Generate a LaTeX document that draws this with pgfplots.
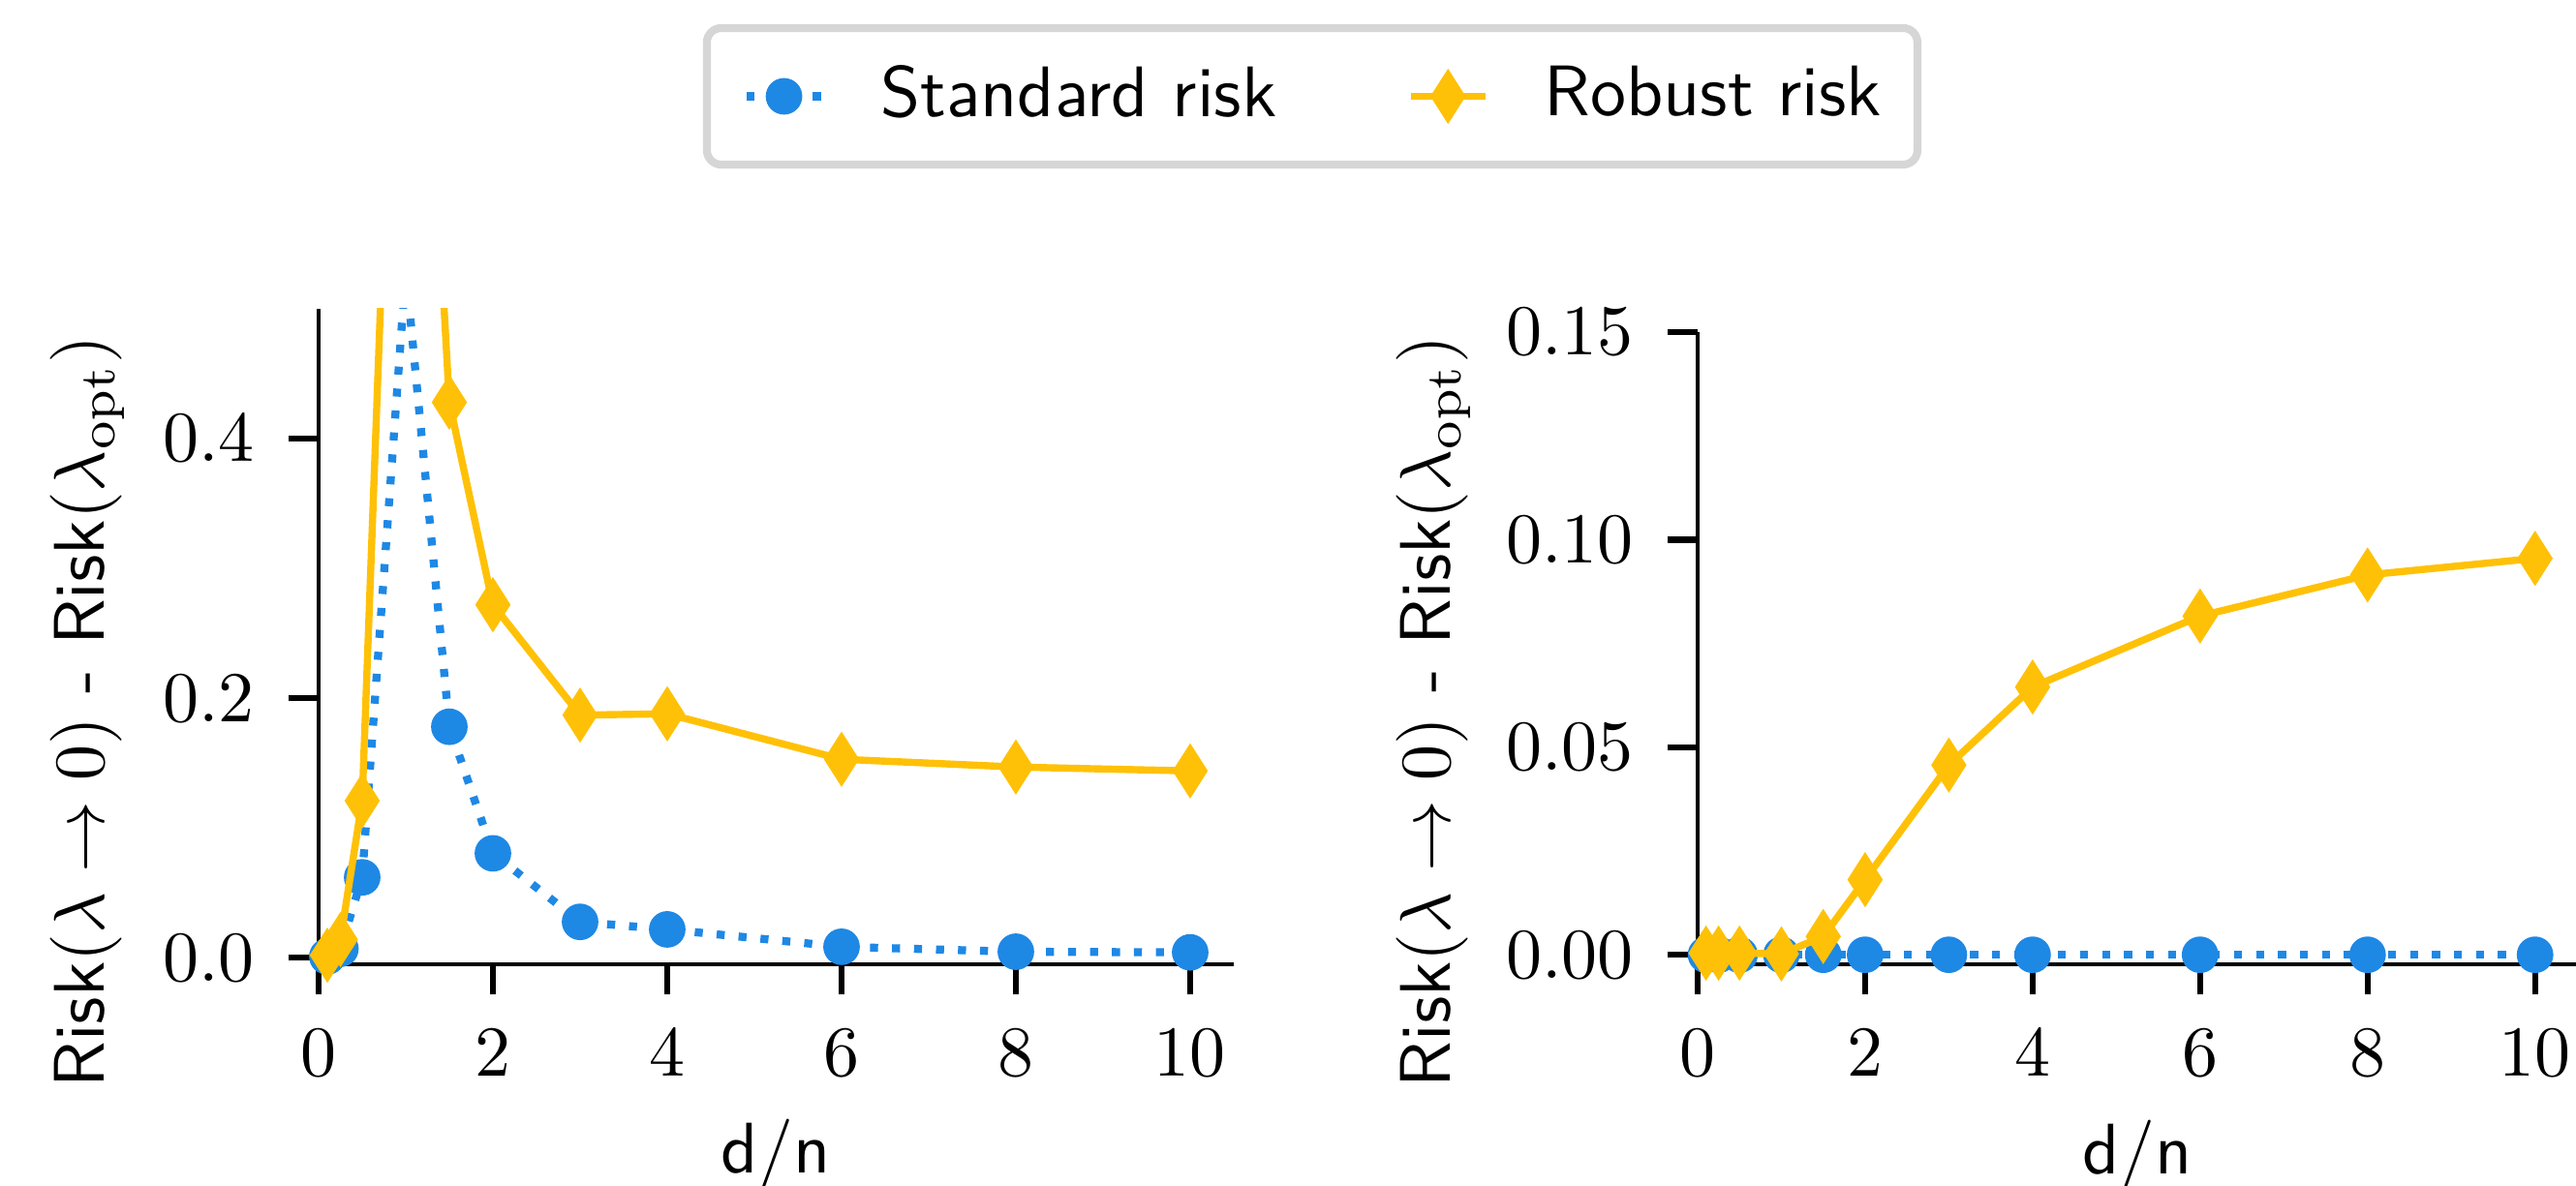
\documentclass[border=0pt]{standalone}
\usepackage{pgfplots}
\pgfplotsset{compat=1.18}
\definecolor{stdblue}{RGB}{30,136,229}
\definecolor{robyellow}{RGB}{255,193,7}
\definecolor{leggray}{RGB}{214,214,214}
\pgfplotstableread{
x y
0.1 0.001
0.25 0.007
0.5 0.062
1 0.53
1.5 0.178
2 0.0805
3 0.0277
4 0.0219
6 0.0085
8 0.0047
10 0.0042
}\stdleft
\pgfplotstableread{
x y
0.1 0.002
0.25 0.014
0.5 0.121
1 1.03
1.5 0.428
2 0.272
3 0.187
4 0.188
6 0.153
8 0.147
10 0.144
}\robleft
\pgfplotstableread{
x y
0.1 0.0
0.25 0.0
0.5 0.0
1 0.0
1.5 0.0
2 0.0
3 0.0
4 0.0
6 0.0
8 0.0
10 0.0
}\stdright
\pgfplotstableread{
x y
0.1 0.0004
0.25 0.0004
0.5 0.0004
1 0.0002
1.5 0.0044
2 0.0181
3 0.0457
4 0.0645
6 0.0816
8 0.0915
10 0.0955
}\robright
\begin{document}
\begin{tikzpicture}
\pgfplotsset{
  myaxis/.style={
    scale only axis,
    axis x line*=bottom, axis y line*=left,
    axis line style={line width=0.5pt, black},
    tick align=outside,
    major tick length=4.2pt,
    every tick/.style={line width=0.85pt, black},
    xtick={0,2,4,6,8,10},
    xmin=0, xmax=10.5,
    clip mode=individual,
    xlabel={\textsf{d/n}},
    ylabel={\textsf{Risk}$(\lambda \rightarrow 0)$\textsf{ - Risk}$(\lambda_{\mathrm{opt}})$},
    xticklabel style={yshift=-1.4pt},
    yticklabel style={xshift=-1.2pt},
    scaled y ticks=false,
  },
  stdplot/.style={stdblue, line width=1.12pt, dash pattern=on 1.12pt off 1.95pt, mark=*, mark size=2.3pt, mark options={solid, line width=0.5pt, fill=stdblue}},
  robplot/.style={robyellow, line width=1pt, mark=diamond*, mark size=3.4pt, mark options={solid, xscale=0.85, line width=0.5pt, fill=robyellow}},
}
\begin{axis}[myaxis,
  at={(44.46pt,30.81pt)}, anchor=south west,
  width=127.7pt, height=91.49pt,
  ymin=-0.005, ymax=0.5,
  ytick={0,0.2,0.4},
  yticklabel style={/pgf/number format/.cd, fixed, fixed zerofill, precision=1},
  xlabel style={at={(axis description cs:0.5,-0.319)}, anchor=base},
  ylabel style={at={(axis description cs:-0.234,0.385)}, anchor=base},
  legend columns=2,
  legend style={at={(1.0857,1.3242)}, anchor=center, draw=leggray, line width=1.1pt,
    rounded corners=2pt, inner xsep=5pt, inner ysep=5.2pt, font=\sffamily,
    nodes={inner sep=0pt},
    /tikz/every odd column/.append style={column sep=7.7pt},
    /tikz/every even column/.append style={column sep=18.2pt}},
  legend image code/.code={\draw[sharp corners,mark repeat=2,mark phase=2,#1] plot coordinates {(0pt,0pt) (5.2pt,0pt) (10.4pt,0pt)};},
]
\addplot[stdplot] table[x=x,y=y] {\stdleft};
\addlegendentry{Standard risk}
\addplot[robplot] table[x=x,y=y] {\robleft};
\addlegendentry{Robust risk}
\end{axis}
\begin{axis}[myaxis,
  at={(236.89pt,30.81pt)}, anchor=south west,
  width=122.7pt, height=88.24pt,
  ymin=-0.0023, ymax=0.15,
  ytick={0,0.05,0.1,0.15},
  yticklabel style={/pgf/number format/.cd, fixed, fixed zerofill, precision=2},
  xlabel style={at={(axis description cs:0.5,-0.331)}, anchor=base},
  ylabel style={at={(axis description cs:-0.281,0.40)}, anchor=base},
]
\addplot[stdplot] table[x=x,y=y] {\stdright};
\addplot[robplot] table[x=x,y=y] {\robright};
\end{axis}
\pgfresetboundingbox
\path[use as bounding box] (0pt,0pt) rectangle (359.46pt,165.41pt);
\end{tikzpicture}
\end{document}
